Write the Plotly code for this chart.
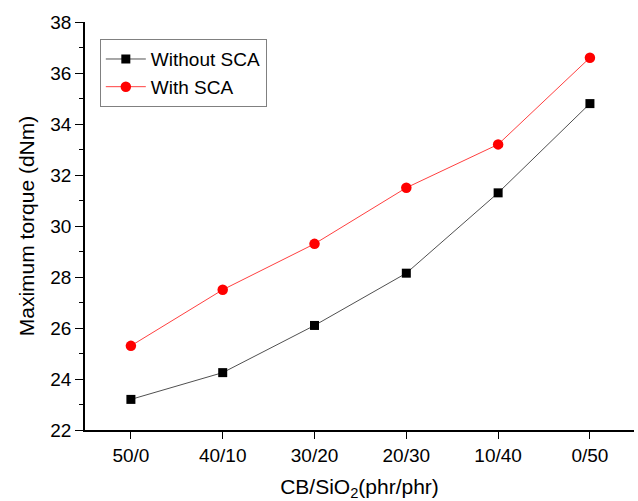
import plotly.graph_objects as go

categories = ["50/0", "40/10", "30/20", "20/30", "10/40", "0/50"]
without_sca = [23.2, 24.25, 26.1, 28.15, 31.3, 34.8]
with_sca = [25.3, 27.5, 29.3, 31.5, 33.2, 36.6]

fig = go.Figure()
fig.add_trace(go.Scatter(
    x=categories, y=without_sca, name="Without SCA", mode="lines+markers",
    line=dict(color="#505050", width=1),
    marker=dict(symbol="square", size=9, color="black"),
))
fig.add_trace(go.Scatter(
    x=categories, y=with_sca, name="With SCA", mode="lines+markers",
    line=dict(color="#ff4040", width=1),
    marker=dict(symbol="circle", size=10.5, color="#ff0000"),
))

font = "Liberation Sans, Arial, sans-serif"
fig.update_layout(
    width=638, height=501,
    margin=dict(l=85, r=4, t=22, b=71, autoexpand=False),
    paper_bgcolor="white", plot_bgcolor="white",
    font=dict(family=font, color="black"),
    showlegend=True,
    legend=dict(
        x=0.027, y=0.958, xanchor="left", yanchor="top",
        bgcolor="white", bordercolor="#808080", borderwidth=1,
        font=dict(size=19, family=font), itemwidth=40,
        tracegroupgap=0,
    ),
    xaxis=dict(
        type="category", range=[-0.5, 5.48],
        showline=True, linecolor="black", linewidth=1.5,
        ticks="outside", ticklen=7, tickcolor="black",
        showgrid=False, zeroline=False,
        tickfont=dict(size=19),
        title=dict(text="CB/SiO<sub>2</sub>(phr/phr)", font=dict(size=21), standoff=15),
    ),
    yaxis=dict(
        range=[22, 38], dtick=2,
        showline=True, linecolor="black", linewidth=1.5,
        ticks="outside", ticklen=8, tickcolor="black",
        minor=dict(dtick=1, ticks="outside", ticklen=4, tickcolor="black"),
        showgrid=False, zeroline=False,
        tickfont=dict(size=19),
        title=dict(text="Maximum torque (dNm)", font=dict(size=21), standoff=10),
    ),
)

fig.write_html(
    "out.html",
    config={"displayModeBar": False},
    post_script="document.body.style.margin='0';document.body.style.overflow='hidden';",
)
